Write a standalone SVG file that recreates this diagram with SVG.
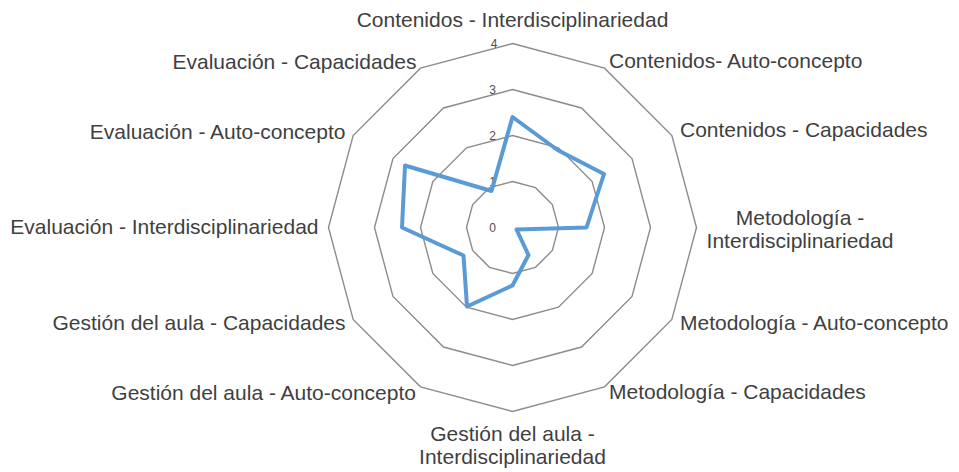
<svg xmlns="http://www.w3.org/2000/svg" width="959" height="472" viewBox="0 0 959 472">
<style>
.ring{fill:none;stroke:#8c8c8c;stroke-width:1.4;stroke-linejoin:miter}
.series{fill:none;stroke:#5b9bd5;stroke-width:4;stroke-linejoin:round}
.lbl{font-family:"Liberation Sans",Arial,sans-serif;font-size:21px;fill:#3f3f3f}
.tick{font-family:"Liberation Sans",Arial,sans-serif;font-size:12px;fill:#505050;text-anchor:middle}
.s{text-anchor:start}.e{text-anchor:end}.m{text-anchor:middle}
</style>
<rect width="959" height="472" fill="#ffffff"/>
<g id="grid">
<polygon class="ring" points="512.5,181.5 535.5,187.66 552.34,204.5 558.5,227.5 552.34,250.5 535.5,267.34 512.5,273.5 489.5,267.34 472.66,250.5 466.5,227.5 472.66,204.5 489.5,187.66"/>
<polygon class="ring" points="512.5,135.5 558.5,147.83 592.17,181.5 604.5,227.5 592.17,273.5 558.5,307.17 512.5,319.5 466.5,307.17 432.83,273.5 420.5,227.5 432.83,181.5 466.5,147.83"/>
<polygon class="ring" points="512.5,89.5 581.5,107.99 632.01,158.5 650.5,227.5 632.01,296.5 581.5,347.01 512.5,365.5 443.5,347.01 392.99,296.5 374.5,227.5 392.99,158.5 443.5,107.99"/>
<polygon class="ring" points="512.5,43.5 604.5,68.15 671.85,135.5 696.5,227.5 671.85,319.5 604.5,386.85 512.5,411.5 420.5,386.85 353.15,319.5 328.5,227.5 353.15,135.5 420.5,68.15"/>
</g>
<g id="ticks">
<text class="tick" x="492.5" y="232">0</text>
<text class="tick" x="492.5" y="186">1</text>
<text class="tick" x="492.5" y="140">2</text>
<text class="tick" x="492.5" y="94">3</text>
<text class="tick" x="494" y="48">4</text>
</g>
<g id="connectors">
<polygon class="series" points="512.5,117 557.5,150 604,174 586.5,227.5 516.5,229.5 528.5,255 512.5,285.5 467,306.5 463.5,255.5 402,227.5 405,165.5 491.5,191"/>
</g>
<g id="labels">
<g id="n0"><text class="lbl m" x="512.5" y="27">Contenidos - Interdisciplinariedad</text></g>
<g id="n1"><text class="lbl s" x="609" y="68">Contenidos- Auto-concepto</text></g>
<g id="n2"><text class="lbl s" x="680" y="137">Contenidos - Capacidades</text></g>
<g id="n3"><text class="lbl m" x="800" y="224.5">Metodología -</text><text class="lbl m" x="800" y="247.5">Interdisciplinariedad</text></g>
<g id="n4"><text class="lbl s" x="680" y="330">Metodología - Auto-concepto</text></g>
<g id="n5"><text class="lbl s" x="609" y="399">Metodología - Capacidades</text></g>
<g id="n6"><text class="lbl m" x="512.5" y="441">Gestión del aula -</text><text class="lbl m" x="512.5" y="464">Interdisciplinariedad</text></g>
<g id="n7"><text class="lbl e" x="416" y="400">Gestión del aula - Auto-concepto</text></g>
<g id="n8"><text class="lbl e" x="345.5" y="330">Gestión del aula - Capacidades</text></g>
<g id="n9"><text class="lbl e" x="318.5" y="233.5">Evaluación - Interdisciplinariedad</text></g>
<g id="n10"><text class="lbl e" x="345.5" y="138.5">Evaluación - Auto-concepto</text></g>
<g id="n11"><text class="lbl e" x="416.5" y="69">Evaluación - Capacidades</text></g>
</g>
</svg>
